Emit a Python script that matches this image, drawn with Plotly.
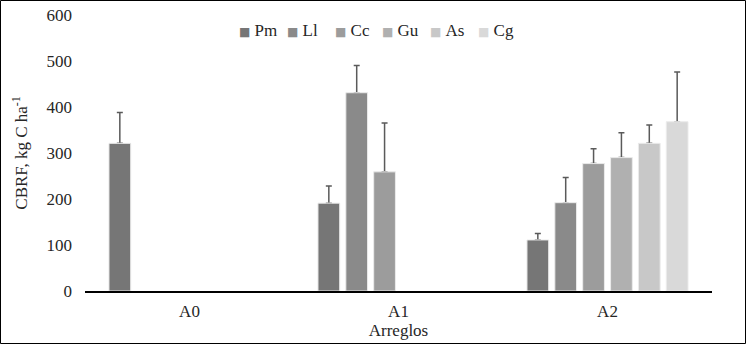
import plotly.graph_objects as go

categories = ["A0", "A1", "A2"]
series_names = ["Pm", "Ll", "Cc", "Gu", "As", "Cg"]
values = {
    "Pm": [321, 191, 111],
    "Ll": [None, 431, 192],
    "Cc": [None, 259, 277],
    "Gu": [None, None, 290],
    "As": [None, None, 321],
    "Cg": [None, None, 368],
}
errors = {
    "Pm": [67, 37, 14],
    "Ll": [None, 59, 55],
    "Cc": [None, 106, 32],
    "Gu": [None, None, 54],
    "As": [None, None, 40],
    "Cg": [None, None, 108],
}
colors = {
    "Pm": "#767676",
    "Ll": "#8a8a8a",
    "Cc": "#9c9c9c",
    "Gu": "#b0b0b0",
    "As": "#c8c8c8",
    "Cg": "#d9d9d9",
}
y_ticks = [0, 100, 200, 300, 400, 500, 600]

W, H = 746, 344
ml, mr, mt, mb = 85, 34, 15, 53
pw, ph = W - ml - mr, H - mt - mb
font = "Liberation Serif, Times New Roman, serif"
txt = "#262626"
fs = 17

fig = go.Figure()
for s in series_names:
    # transparent carrier for the (upper-only) error bars; the real bar drawn
    # afterwards in the same offset group hides the lower cap
    fig.add_trace(go.Bar(
        name=s, x=categories, y=values[s], offsetgroup=s,
        marker=dict(color="rgba(0,0,0,0)", line=dict(width=0)),
        error_y=dict(type="data", symmetric=False,
                     array=[e if e is not None else 0 for e in errors[s]],
                     arrayminus=[0 for _ in errors[s]],
                     visible=True, color="#5a5a5a", thickness=1.5, width=3),
        showlegend=False, hoverinfo="skip",
    ))
    fig.add_trace(go.Bar(
        name=s, x=categories, y=values[s], offsetgroup=s,
        marker=dict(color=colors[s], line=dict(color="#ebebeb", width=1)),
        showlegend=False,
    ))

# legend drawn as text entries (compact Excel-style legend)
annotations = []
leg_x0, leg_step, leg_y = 237, 47.8, 30
for i, s in enumerate(series_names):
    annotations.append(dict(
        xref="paper", yref="paper",
        x=(leg_x0 + i * leg_step - ml) / pw, y=(ph + mt - leg_y) / ph,
        xanchor="left", yanchor="middle", showarrow=False,
        text=f"<span style='color:{colors[s]};font-size:12px;font-family:DejaVu Sans'>■</span>&nbsp;{s}",
        font=dict(family=font, size=fs, color=txt),
    ))

fig.update_layout(
    width=W, height=H,
    margin=dict(l=ml, r=mr, t=mt, b=mb),
    paper_bgcolor="white", plot_bgcolor="white",
    barmode="group", bargap=0.2, bargroupgap=0.22,
    font=dict(family=font, size=fs, color=txt),
    showlegend=False,
    annotations=annotations,
    xaxis=dict(showline=True, linecolor="black", linewidth=1.5, ticks="",
               automargin=False, ticklabelstandoff=4,
               title=dict(text="Arreglos", standoff=0, font=dict(family=font, size=fs)),
               tickfont=dict(family=font, size=fs)),
    yaxis=dict(range=[0, 600], tickvals=y_ticks, showgrid=False, zeroline=False,
               showline=False, ticks="", ticklabelstandoff=12, automargin=False,
               title=dict(text="CBRF, kg C ha<sup>-1</sup>", standoff=14,
                          font=dict(family=font, size=fs)),
               tickfont=dict(family=font, size=fs)),
    shapes=[dict(type="rect", xref="paper", yref="paper",
                 x0=(-ml + 0.5) / pw, x1=(pw + mr - 0.5) / pw,
                 y0=(-mb + 0.5) / ph, y1=(ph + mt - 0.5) / ph,
                 line=dict(color="black", width=1))],
)
fig.write_html("out.html", config={"displayModeBar": False},
               post_script="document.body.style.margin='0';document.body.style.overflow='hidden';")
